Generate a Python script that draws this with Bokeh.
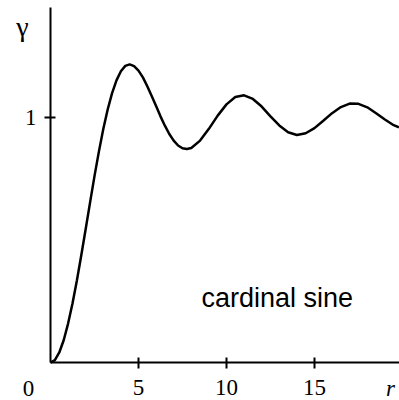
from bokeh.plotting import figure
from bokeh.models import Range1d, FixedTicker, Label, LinearAxis
from bokeh.embed import file_html
from bokeh.resources import INLINE

# Hole-effect variogram: lag distance r and semivariance gamma
r = [0, 0.25, 0.5, 0.75, 1.0, 1.25, 1.5, 1.75, 2.0, 2.25, 2.5, 2.75, 3.0, 3.25,
     3.5, 3.75, 4.0, 4.25, 4.5, 4.75, 5.0, 5.25, 5.5, 5.75, 6.0, 6.25, 6.5, 6.75,
     7.0, 7.25, 7.5, 7.75, 8.0, 8.5, 9.0, 9.5, 10.0, 10.5, 11.0, 11.5, 12.0, 12.5,
     13.0, 13.5, 14.0, 14.5, 15.0, 15.5, 16.0, 16.5, 17.0, 17.5, 18.0, 18.5, 19.0,
     19.5, 19.8]
gamma = [0.0, 0.010, 0.041, 0.091, 0.159, 0.241, 0.335, 0.438, 0.545, 0.654,
         0.761, 0.861, 0.953, 1.033, 1.100, 1.152, 1.189, 1.211, 1.217, 1.210,
         1.192, 1.164, 1.128, 1.088, 1.047, 1.005, 0.967, 0.933, 0.906, 0.886,
         0.875, 0.872, 0.876, 0.906, 0.954, 1.008, 1.054, 1.084, 1.091, 1.076,
         1.045, 1.005, 0.968, 0.940, 0.929, 0.936, 0.957, 0.987, 1.018, 1.043,
         1.057, 1.056, 1.042, 1.018, 0.992, 0.969, 0.960]

x_ticks = [5, 10, 15]
y_ticks = [1]
model_name = "cardinal sine"

R_MAX = 19.83
G_MAX = 1.449

p = figure(width=399, height=400, output_backend="svg", toolbar_location=None,
           x_range=Range1d(-2.84, R_MAX), y_range=Range1d(-0.155, 1.478),
           x_axis_location=None, y_axis_location=None,
           min_border=0)
p.outline_line_color = None
p.xgrid.visible = False
p.ygrid.visible = False
p.background_fill_color = "white"
p.border_fill_color = "white"

xaxis = LinearAxis(fixed_location=0, bounds=(0, R_MAX))
yaxis = LinearAxis(fixed_location=0, bounds=(0, G_MAX))
for ax, ticks in ((xaxis, x_ticks), (yaxis, y_ticks)):
    ax.ticker = FixedTicker(ticks=ticks)
    ax.minor_tick_line_color = None
    ax.axis_line_width = 2
    ax.axis_line_color = "black"
    ax.major_tick_line_width = 2
    ax.major_tick_line_color = "black"
    ax.major_tick_in = 5
    ax.major_tick_out = 6
    ax.major_label_text_font = "Liberation Serif"
    ax.major_label_text_font_size = "23px"
    ax.major_label_text_color = "black"
xaxis.major_label_standoff = 11
yaxis.major_label_standoff = 8
p.add_layout(xaxis, "below")
p.add_layout(yaxis, "left")

p.line(r, gamma, line_color="black", line_width=2.5)

serif = dict(text_font="Liberation Serif", text_color="black",
             text_align="center", text_baseline="middle")
p.add_layout(Label(x=-1.25, y=-0.105, text="0", text_font_size="23px", **serif))
p.add_layout(Label(x=19.32, y=-0.105, text="r", text_font_size="23px",
                   text_font_style="italic", **serif))
p.add_layout(Label(x=-1.59, y=1.37, text="\u03b3", text_font_size="28px", **serif))
p.add_layout(Label(x=8.58, y=0.265, text=model_name, text_font="Liberation Sans",
                   text_font_size="27px", text_color="black",
                   text_align="left", text_baseline="alphabetic"))

open("out.html", "w").write(file_html(p, INLINE))
